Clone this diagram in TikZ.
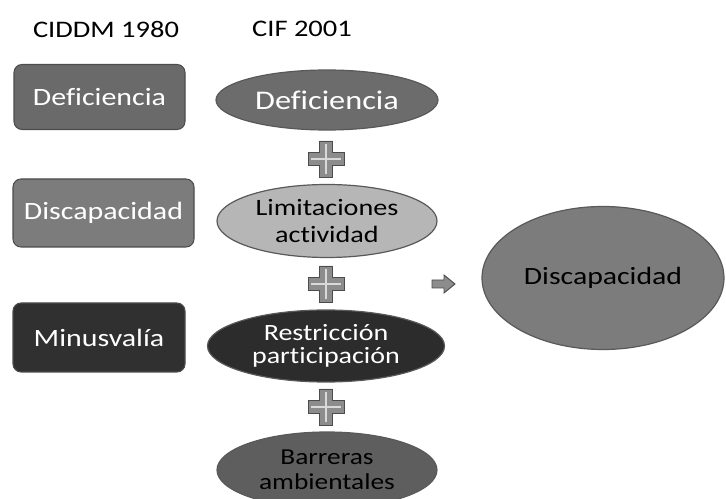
\documentclass[tikz,border=0pt]{standalone}
\usepackage{fontspec}
\setmainfont{Carlito}[FakeStretch=1.2,Ligatures=CommonOff]
\usetikzlibrary{shapes.geometric}

\definecolor{rectA}{RGB}{106,106,106}
\definecolor{rectB}{RGB}{124,124,124}
\definecolor{rectC}{RGB}{48,48,48}
\definecolor{ellA}{RGB}{108,108,108}
\definecolor{ellB}{RGB}{182,182,182}
\definecolor{ellC}{RGB}{44,44,44}
\definecolor{ellD}{RGB}{94,94,94}
\definecolor{ellE}{RGB}{124,124,124}
\definecolor{plusfill}{RGB}{140,140,140}

\tikzset{
  oldbox/.style={draw=black!70, line width=0.8pt, rounded corners=6pt, text=white, inner sep=0pt, font=\fontsize{18.7}{21}\selectfont},
  newell/.style={ellipse, draw=black!65, line width=0.9pt, inner sep=0pt, align=center},
  title/.style={inner sep=0.75pt, font=\fontsize{17.8}{20}\selectfont},
  plusmark/.style={fill=plusfill, draw=black!70, line width=0.7pt}
}

\newcommand{\plussign}[1]{%
  \draw[plusmark, shift={#1}] (-6.5,-18) -- (6.5,-18) -- (6.5,-6.5) -- (18,-6.5) -- (18,6.5) -- (6.5,6.5) -- (6.5,18) -- (-6.5,18) -- (-6.5,6.5) -- (-18,6.5) -- (-18,-6.5) -- (-6.5,-6.5) -- cycle;
  \draw[white!85!black, line width=1pt, shift={#1}] (0,-15) -- (0,15) (-15,0) -- (15,0);
}

\begin{document}
\begin{tikzpicture}[x=0.75pt,y=0.75pt,yscale=-1,xscale=1]
\useasboundingbox (0,0) rectangle (726,499);

% Titles
\node[title] (tOld) at (106,29) {CIDDM 1980};
\node[title] (tNew) at (302,29) {CIF 2001};

% CIDDM boxes
\node[oldbox, fill=rectA, minimum width=128.25pt, minimum height=48.75pt] (bDef) at (99.5,97) {Deficiencia};
\node[oldbox, fill=rectB, minimum width=135.75pt, minimum height=51pt] (bDis) at (103.5,213) {Discapacidad};
\node[oldbox, fill=rectC, minimum width=129pt, minimum height=51.75pt] (bMin) at (99,337.5) {Minusvalía};

% CIF ellipses
\node[newell, fill=ellA, text=white, minimum width=166.5pt, minimum height=45pt, font=\fontsize{20.2}{22}\selectfont] (eDef) at (327,100) {Deficiencia};
\node[newell, fill=ellB, minimum width=165pt, minimum height=54.75pt, font=\fontsize{17.6}{20.2}\selectfont] (eLim) at (327,221) {Limitaciones\\actividad};
\node[newell, fill=ellC, text=white, minimum width=177.75pt, minimum height=54pt, font=\fontsize{17.5}{17.5}\selectfont] (eRes) at (326,346) {Restricción\\participación};
\node[newell, fill=ellD, minimum width=165pt, minimum height=57pt, font=\fontsize{17.1}{19}\selectfont] (eBar) at (327,470) {Barreras\\ambientales};

% Result
\node[newell, fill=ellE, minimum width=181.5pt, minimum height=107.25pt, font=\fontsize{18.6}{22}\selectfont] (eRes2) at (603,278) {Discapacidad};

% Plus signs
\plussign{(326,159)}
\plussign{(326,284)}
\plussign{(326,407)}

% Arrow
\draw[plusmark] (432,280) -- (444,280) -- (444,275) -- (455,284) -- (444,293) -- (444,288) -- (432,288) -- cycle;

\end{tikzpicture}
\end{document}
